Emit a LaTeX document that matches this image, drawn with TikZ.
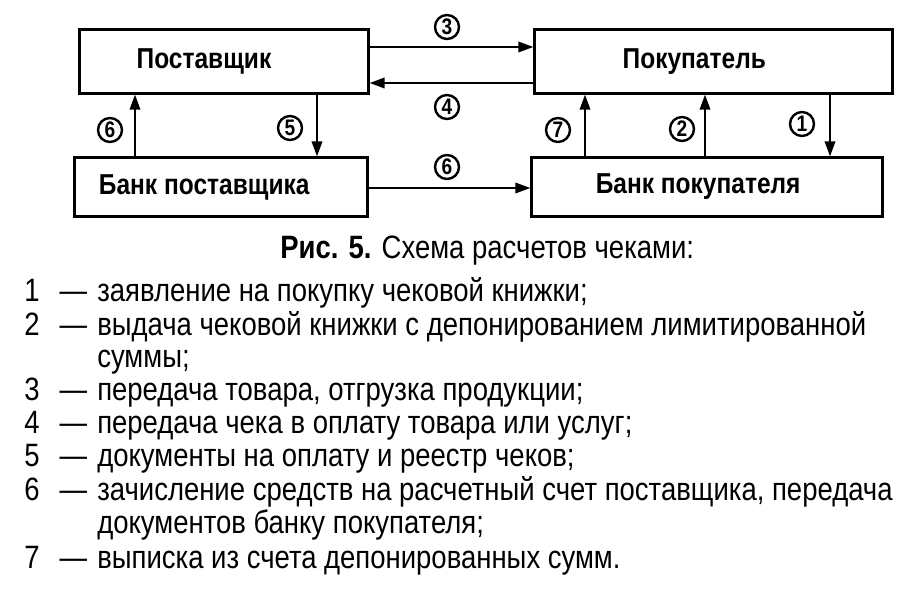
\documentclass[tikz,border=0pt]{standalone}
\usepackage{fontspec}
\setmainfont{Liberation Sans}[FakeStretch=0.85]
\usetikzlibrary{arrows.meta}
\newcommand\itm[1]{\makebox[1.825cm][l]{#1\hspace{0.62em}—}}

\tikzset{
  box/.style={draw, line width=0.075cm, inner sep=0pt},
  boxtext/.style={font=\bfseries\fontsize{20.5}{22}\selectfont, inner sep=0pt},
  arr/.style={line width=0.06cm, -{Triangle[length=0.38cm, width=0.26cm]}},
  num/.style={draw, circle, line width=0.06cm, minimum size=0.6cm, inner sep=0pt,
    font=\bfseries\fontsize{16}{16}\selectfont},
  line/.style={anchor=base west, inner sep=0pt, font=\fontsize{23}{25}\selectfont}
}

\begin{document}
\begin{tikzpicture}[x=0.025cm, y=-0.025cm]
  %%%%% START %%%%%
  \useasboundingbox (0,0) rectangle (924,592);

  \node[box, minimum width=7.2cm, minimum height=1.575cm,
    label={[boxtext, xshift=-0.5cm]center:Поставщик}] (post) at (224,61.5) {};
  \node[box, minimum width=8.925cm, minimum height=1.575cm,
    label={[boxtext, xshift=-0.48cm]center:Покупатель}] (buyer) at (713.5,61.5) {};
  \node[box, minimum width=7.3cm, minimum height=1.45cm,
    label={[boxtext, xshift=-0.42cm]center:Банк поставщика}] (bpost) at (221,187) {};
  \node[box, minimum width=8.75cm, minimum height=1.45cm,
    label={[boxtext, xshift=-0.22cm]center:Банк покупателя}] (bbuy) at (707,187) {};

  % horizontal arrows
  \draw[arr] (post.east |- 0,47) -- (buyer.west |- 0,47);
  \draw[arr] (buyer.west |- 0,83) -- (post.east |- 0,83);
  \draw[arr] (bpost.east |- 0,188) -- (bbuy.west |- 0,188);

  % vertical arrows
  \draw[arr] (bpost.north -| 135,0) -- (post.south -| 135,0);
  \draw[arr] (post.south -| 317,0) -- (bpost.north -| 317,0);
  \draw[arr] (bbuy.north -| 585,0) -- (buyer.south -| 585,0);
  \draw[arr] (bbuy.north -| 705,0) -- (buyer.south -| 705,0);
  \draw[arr] (buyer.south -| 830,0) -- (bbuy.north -| 830,0);

  % numbers
  \node[num] (n3) at (447,27) {3};
  \node[num] (n4) at (447,107) {4};
  \node[num] (n6a) at (447,167) {6};
  \node[num] (n6b) at (110,130) {6};
  \node[num] (n5) at (290,128) {5};
  \node[num] (n7) at (558,130) {7};
  \node[num] (n2) at (682,129) {2};
  \node[num] (n1) at (802,124) {1};

  % caption and legend
  \node[line] (cap) at (280,258) {\textbf{Рис. 5.} Схема расчетов чеками:};
  \node[line] (l1) at (24,301) {\itm{1}заявление на покупку чековой книжки;};
  \node[line] (l2) at (24,335) {\itm{2}выдача чековой книжки с депонированием лимитированной};
  \node[line] (l2b) at (97,367) {суммы;};
  \node[line] (l3) at (24,400) {\itm{3}передача товара, отгрузка продукции;};
  \node[line] (l4) at (24,433) {\itm{4}передача чека в оплату товара или услуг;};
  \node[line] (l5) at (24,466) {\itm{5}документы на оплату и реестр чеков;};
  \node[line] (l6) at (24,500) {\itm{6}зачисление средств на расчетный счет поставщика, передача};
  \node[line] (l6b) at (97,533) {документов банку покупателя;};
  \node[line] (l7) at (24,568) {\itm{7}выписка из счета депонированных сумм.};

  %%%%% END %%%%%
\end{tikzpicture}
\end{document}
